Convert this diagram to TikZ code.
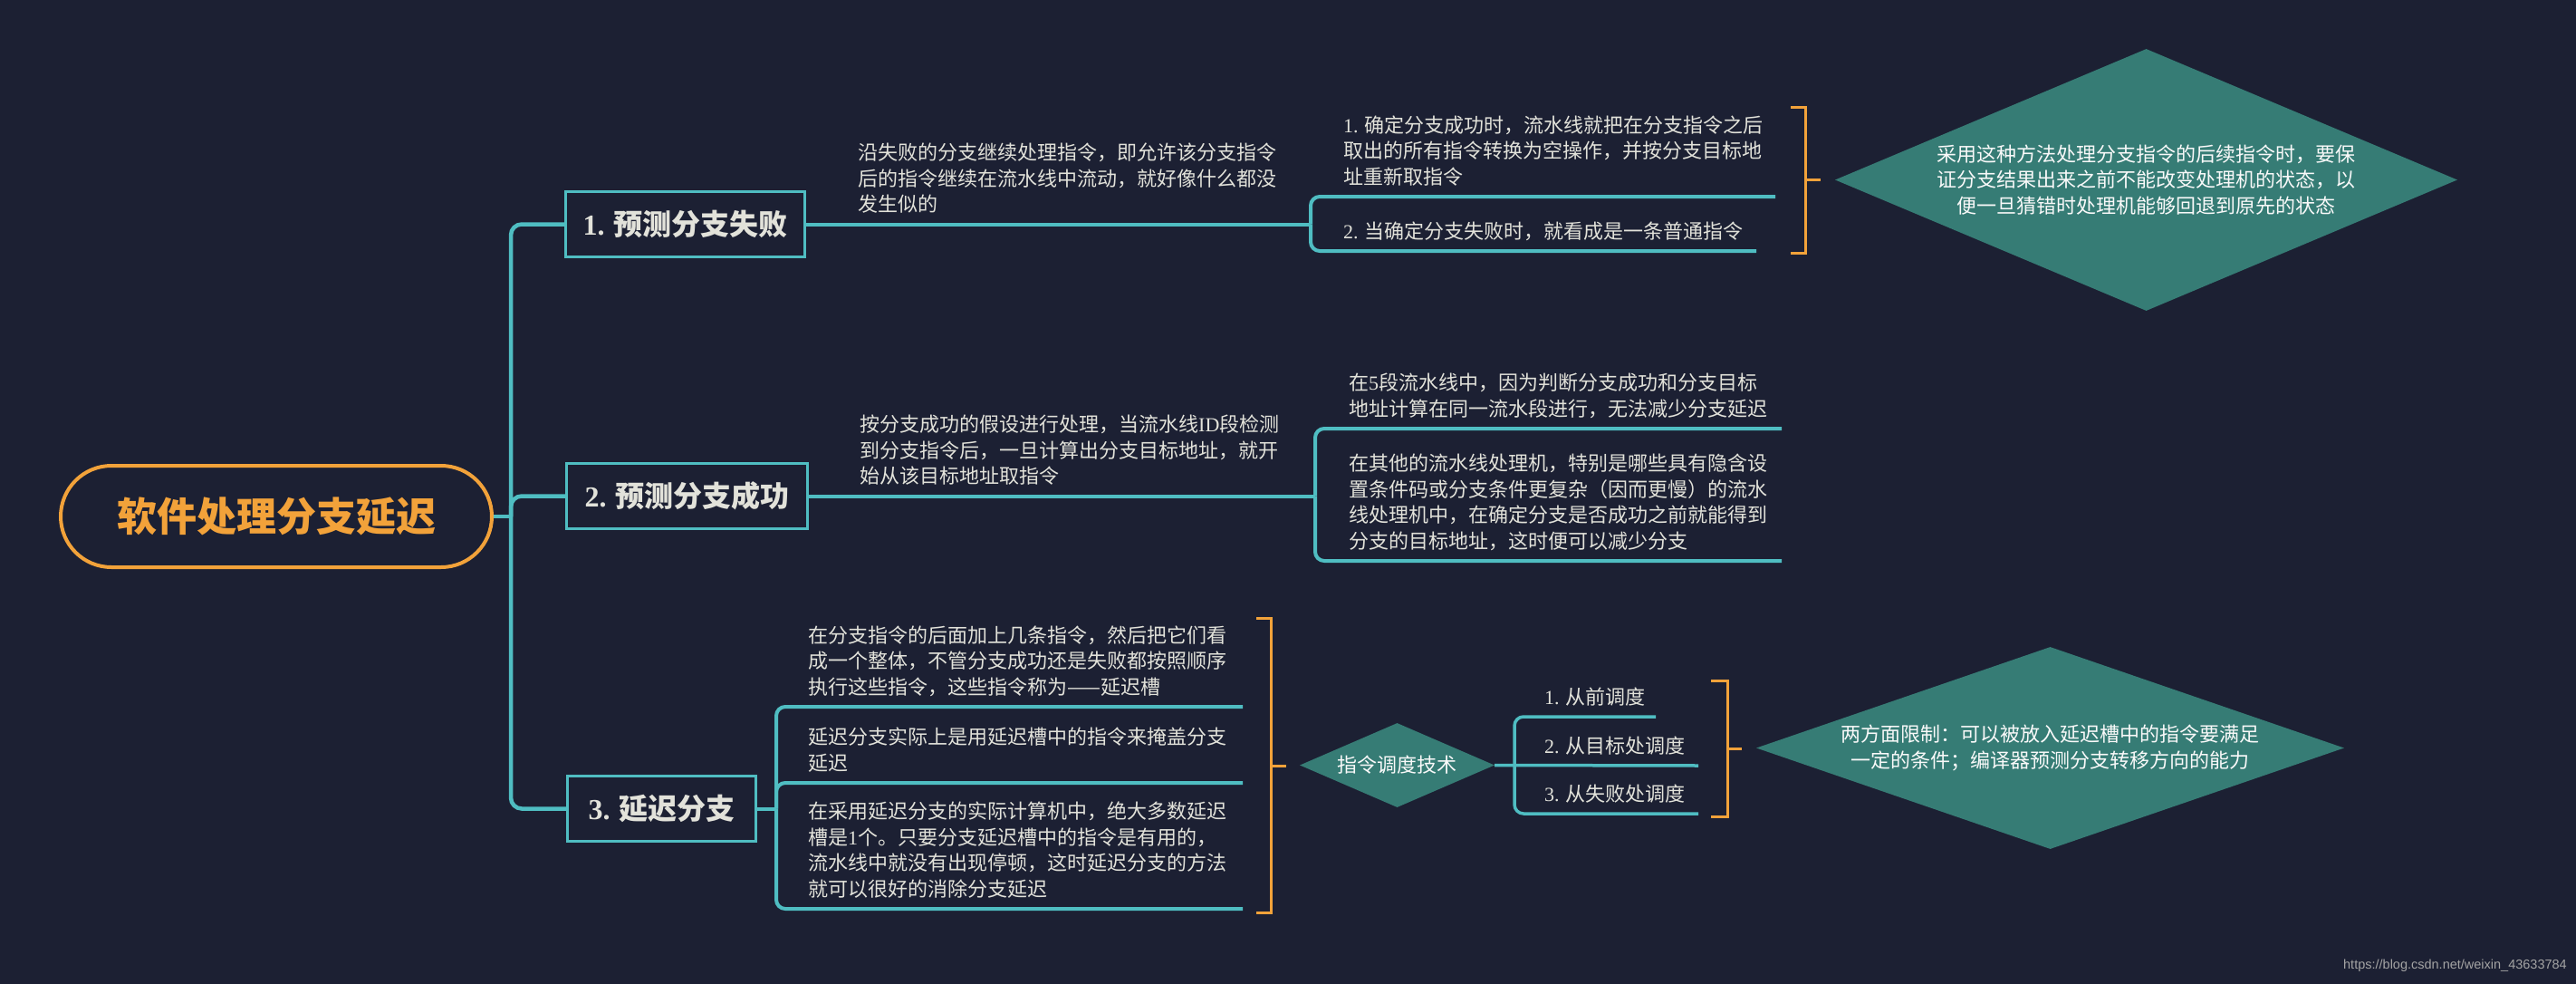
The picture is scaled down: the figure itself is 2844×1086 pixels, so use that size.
\documentclass[tikz,border=0pt]{standalone}
\usepackage{fontspec}
\setmainfont{Noto Sans CJK SC}
\newfontfamily\serifen{Liberation Serif}
\newfontfamily\wmfont{Liberation Sans}
\usetikzlibrary{shapes.geometric}
\definecolor{bgc}{HTML}{1C2033}
\definecolor{linec}{HTML}{4FBDC2}
\definecolor{orng}{HTML}{F2A23A}
\definecolor{dfill}{HTML}{367C75}
\definecolor{txt}{HTML}{E2E2DA}
\definecolor{wmc}{HTML}{A4A4A4}
\newcommand{\en}[1]{{\serifen #1}}
\newcommand{\ed}{\rule[-5pt]{0pt}{5pt}}
\tikzset{
  rootbox/.style={draw=orng, line width=4pt, rounded corners=56pt, minimum width=476pt, minimum height=112pt, inner sep=0pt, text=orng, font=\fontsize{44}{50}\selectfont\bfseries},
  topicbox/.style={draw=linec, line width=3pt, minimum height=72pt, inner sep=0pt, text=txt, font=\fontsize{32}{38}\selectfont\bfseries},
  leaf/.style={anchor=south west, inner sep=0pt, align=left, text=txt, font=\fontsize{22}{28.5}\selectfont},
  conn/.style={draw=linec, line width=4.5pt, rounded corners=12pt},
  subconn/.style={draw=linec, line width=4pt, rounded corners=10pt},
  smallconn/.style={draw=linec, line width=3.5pt, rounded corners=10pt},
  brk/.style={draw=orng, line width=3pt},
  dia/.style={diamond, fill=dfill, inner sep=0pt, text=white!95!gray, align=center, font=\fontsize{22}{28.5}\selectfont},
}
\begin{document}
\begin{tikzpicture}[x=1pt, y=-1pt]
\fill[bgc] (0,0) rectangle (2844,1086);
\useasboundingbox (0,0) rectangle (2844,1086);

% root and topics
\node[rootbox] (root) at (305,570) {软件处理分支延迟};
\node[topicbox, minimum width=264pt] (b1) at (756.5,247.5) {\en{1.} 预测分支失败};
\node[topicbox, minimum width=266pt] (b2) at (758.5,547.5) {\en{2.} 预测分支成功};
\node[topicbox, minimum width=208pt] (b3) at (730.5,892.5) {\en{3.} 延迟分支};

% junction coordinates
\coordinate (tr) at (564,570);
\coordinate (j1) at (1447,247.5);
\coordinate (u11) at (1960,217);
\coordinate (u12) at (1939,277);
\coordinate (j2) at (1452,547.5);
\coordinate (u21) at (1967,473);
\coordinate (u22) at (1967,619);
\coordinate (j3) at (857,892.5);
\coordinate (u31) at (1372,780);
\coordinate (u32) at (1372,864);
\coordinate (u33) at (1372,1003);
\coordinate (j4) at (1672,845);
\coordinate (u41) at (1828,791);
\coordinate (u42) at (1875,845);
\coordinate (u43) at (1875,898);

% trunk
\draw[conn] (root.east) -- (tr);
\draw[conn] (tr) |- (b1.west);
\draw[conn] (tr) |- (b2.west);
\draw[conn] (tr) |- (b3.west);

% topic 1
\draw[subconn] (b1.east) -- (j1);
\draw[subconn] (j1) |- (u11);
\draw[subconn] (j1) |- (u12);
\node[leaf] (t1) at (947,238.9) {沿失败的分支继续处理指令，即允许该分支指令\\后的指令继续在流水线中流动，就好像什么都没\\发生似的\ed};
\node[leaf] (t11) at (1483,208.4) {\en{1.} 确定分支成功时，流水线就把在分支指令之后\\取出的所有指令转换为空操作，并按分支目标地\\址重新取指令\ed};
\node[leaf] (t12) at (1483,268.4) {\en{2.} 当确定分支失败时，就看成是一条普通指令\ed};
\draw[brk] (1977,119) -- (1993,119) -- (1993,279) -- (1977,279);
\draw[brk] (1993,199) -- (2010,199);
\node[dia, minimum width=687pt, minimum height=289pt, aspect=2.377] (d1) at (2369.5,198.5) {采用这种方法处理分支指令的后续指令时，要保\\证分支结果出来之前不能改变处理机的状态，以\\便一旦猜错时处理机能够回退到原先的状态};

% topic 2
\draw[subconn] (b2.east) -- (j2);
\draw[subconn] (j2) |- (u21);
\draw[subconn] (j2) |- (u22);
\node[leaf] (t2) at (949,538.9) {按分支成功的假设进行处理，当流水线\en{ID}段检测\\到分支指令后，一旦计算出分支目标地址，就开\\始从该目标地址取指令\ed};
\node[leaf] (t21) at (1489,464.4) {在\en{5}段流水线中，因为判断分支成功和分支目标\\地址计算在同一流水段进行，无法减少分支延迟\ed};
\node[leaf] (t22) at (1489,610.4) {在其他的流水线处理机，特别是哪些具有隐含设\\置条件码或分支条件更复杂（因而更慢）的流水\\线处理机中，在确定分支是否成功之前就能得到\\分支的目标地址，这时便可以减少分支\ed};

% topic 3
\draw[subconn] (b3.east) -- (j3);
\draw[subconn] (j3) |- (u31);
\draw[subconn] (j3) |- (u32);
\draw[subconn] (j3) |- (u33);
\node[leaf] (t31) at (892,771.4) {在分支指令的后面加上几条指令，然后把它们看\\成一个整体，不管分支成功还是失败都按照顺序\\执行这些指令，这些指令称为——延迟槽\ed};
\node[leaf] (t32) at (892,855.4) {延迟分支实际上是用延迟槽中的指令来掩盖分支\\延迟\ed};
\node[leaf] (t33) at (892,994.4) {在采用延迟分支的实际计算机中，绝大多数延迟\\槽是\en{1}个。只要分支延迟槽中的指令是有用的，\\流水线中就没有出现停顿，这时延迟分支的方法\\就可以很好的消除分支延迟\ed};
\draw[brk] (1387,682) -- (1403,682) -- (1403,1007) -- (1387,1007);
\draw[brk] (1403,845) -- (1420,845);

% scheduling diamond
\node[dia, minimum width=215pt, minimum height=93pt, aspect=2.31] (dz) at (1542.5,844.5) {指令调度技术};
\draw[smallconn] (dz.east) -- (u42);
\draw[smallconn] (j4) |- (u41);
\draw[smallconn] (j4) |- (u43);
\node[leaf] (s1) at (1705,782.4) {\en{1.} 从前调度\ed};
\node[leaf] (s2) at (1705,836.4) {\en{2.} 从目标处调度\ed};
\node[leaf] (s3) at (1705,889.4) {\en{3.} 从失败处调度\ed};
\draw[brk] (1889,751) -- (1907,751) -- (1907,901) -- (1889,901);
\draw[brk] (1907,826) -- (1923,826);
\node[dia, minimum width=649pt, minimum height=223pt, aspect=2.91] (d2) at (2263.5,825.5) {两方面限制：可以被放入延迟槽中的指令要满足\\一定的条件；编译器预测分支转移方向的能力};

% watermark
\node[anchor=east, inner sep=0pt, text=wmc, font=\wmfont\fontsize{14.5}{16}\selectfont] (wm) at (2834,1066) {https://blog.csdn.net/weixin\_43633784};
\end{tikzpicture}
\end{document}
